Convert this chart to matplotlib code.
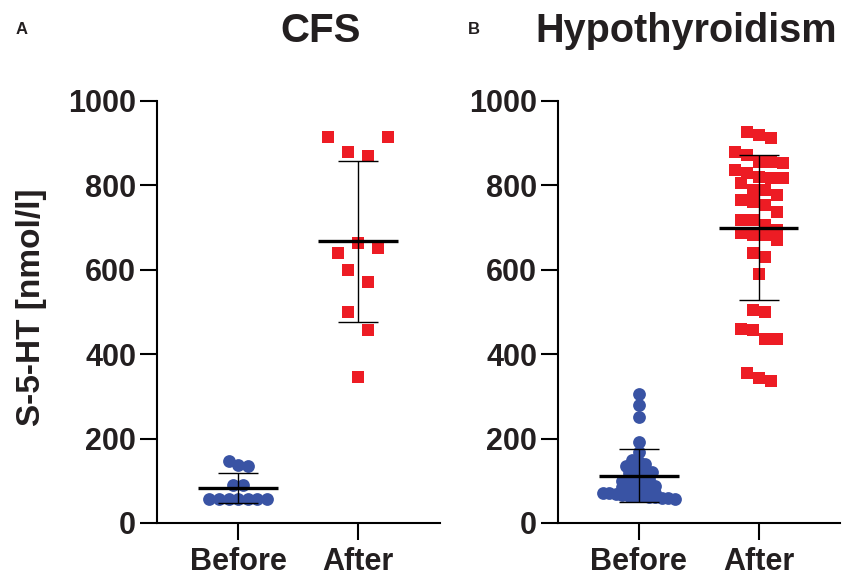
import numpy as np
import matplotlib
matplotlib.use("Agg")
import matplotlib.pyplot as plt

plt.rcParams['font.family'] = ['Liberation Sans', 'DejaVu Sans']
plt.rcParams['font.weight'] = 'bold'

# ---------------- data ----------------
categories = ["Before", "After"]
panel_titles = ["CFS", "Hypothyroidism"]
panel_letters = ["A", "B"]
y_label = "S-5-HT [nmol/l]"
y_ticks = [0, 200, 400, 600, 800, 1000]

cfs_before = [148, 138, 136, 90, 90, 57, 57, 57, 57, 57, 57, 57]
cfs_after = [915, 879, 870, 915, 640, 663, 652, 600, 571, 500, 457, 346]
cfs_mean = [83, 668]
cfs_sd = [36, 191]

hypo_before = [306, 280, 251, 192, 168, 150, 145, 140, 135, 130, 128, 125, 122,
               118, 115, 110, 105, 100, 98, 95, 92, 90, 88, 85, 82, 80, 78,
               75, 72, 70, 70, 68, 66, 65, 65, 63, 62, 62, 60, 60, 58]
hypo_after = [927, 919, 912, 879, 872, 855, 855, 853, 836, 829, 820, 817, 817,
              805, 789, 789, 777, 765, 760, 753, 737, 718, 718, 706, 694, 687,
              682, 682, 671, 640, 630, 590, 505, 500, 460, 457, 436, 436, 355,
              343, 336]
hypo_mean = [112, 700]
hypo_sd = [63, 172]

BLUE = '#3953A4'
RED = '#ED1C24'
TXT = '#231F20'


def row_offsets(values, row_h, sp):
    """Prism-like row layout: consecutive values within row_h share a row."""
    v = np.asarray(values, float)
    offs = np.zeros(len(v))
    i = 0
    while i < len(v):
        lo = hi = v[i]
        j = i
        while j + 1 < len(v):
            nlo, nhi = min(lo, v[j + 1]), max(hi, v[j + 1])
            if nhi - nlo <= row_h:
                lo, hi = nlo, nhi
                j += 1
            else:
                break
        n = j - i + 1
        offs[i:j + 1] = (np.arange(n) - (n - 1) / 2) * sp
        i = j + 1
    return offs


W, H = 844, 577
fig = plt.figure(figsize=(W / 100, H / 100), dpi=100)
axA = fig.add_axes([157 / W, 1 - 523 / H, (440 - 157) / W, (523 - 101) / H])
axB = fig.add_axes([558 / W, 1 - 523 / H, (840 - 558) / W, (523 - 101) / H])

panels = [
    (axA, cfs_before, cfs_after, cfs_mean, cfs_sd, (50, 0.167), (15, 0.08)),
    (axB, hypo_before, hypo_after, hypo_mean, hypo_sd, (30, 0.10), (14, 0.055)),
]

for ax, before, after, means, sds, red_lay, blue_lay in panels:
    xb = 0 + row_offsets(before, blue_lay[0], blue_lay[1])
    xa = 1 + row_offsets(after, red_lay[0], red_lay[1])
    ax.scatter(xb, before, s=9.2 ** 2, marker='o', color=BLUE, linewidths=0,
               zorder=2, clip_on=False)
    ax.scatter(xa, after, s=8.6 ** 2, marker='s', color=RED, linewidths=0,
               zorder=2, clip_on=False)
    for k in range(2):
        m, s = means[k], sds[k]
        ax.hlines(m, k - 0.333, k + 0.333, color='black', lw=2.4, zorder=4)
        ax.vlines(k, m - s, m + s, color='black', lw=1.0, zorder=3)
        ax.hlines([m - s, m + s], k - 0.167, k + 0.167, color='black', lw=1.0,
                  zorder=3)

    ax.set_xlim(-0.675, 1.68)
    ax.set_ylim(0, 1000)
    ax.set_xticks([0, 1])
    ax.set_xticklabels(categories)
    ax.set_yticks(y_ticks)
    ax.set_yticklabels([str(t) for t in y_ticks])
    for sp in ['top', 'right']:
        ax.spines[sp].set_visible(False)
    for sp in ['left', 'bottom']:
        ax.spines[sp].set_linewidth(1.5)
    ax.spines['left'].set_bounds(0, 1000)
    ax.tick_params(axis='both', direction='out', length=12, width=1.5,
                   labelsize=22, color='black')
    ax.tick_params(axis='y', pad=3)
    ax.tick_params(axis='x', pad=5)
    for lab in ax.get_xticklabels() + ax.get_yticklabels():
        lab.set_fontweight('bold')
        lab.set_color(TXT)
    ax.set_facecolor('white')

fig.text(32 / W, 1 - 307 / H, y_label, rotation=90, ha='center', va='center',
         fontsize=24, fontweight='bold', color=TXT)

fig.text(321 / W, 1 - 31 / H, panel_titles[0], ha='center', va='center',
         fontsize=29, fontweight='bold', color=TXT)
fig.text(686 / W, 1 - 31 / H, panel_titles[1], ha='center', va='center',
         fontsize=28.5, fontweight='bold', color=TXT)
fig.text(22 / W, 1 - 30 / H, panel_letters[0], ha='center', va='center',
         fontsize=12, fontweight='bold', color=TXT)
fig.text(474 / W, 1 - 30 / H, panel_letters[1], ha='center', va='center',
         fontsize=12, fontweight='bold', color=TXT)

fig.savefig("out.png", dpi=100, facecolor='white')
